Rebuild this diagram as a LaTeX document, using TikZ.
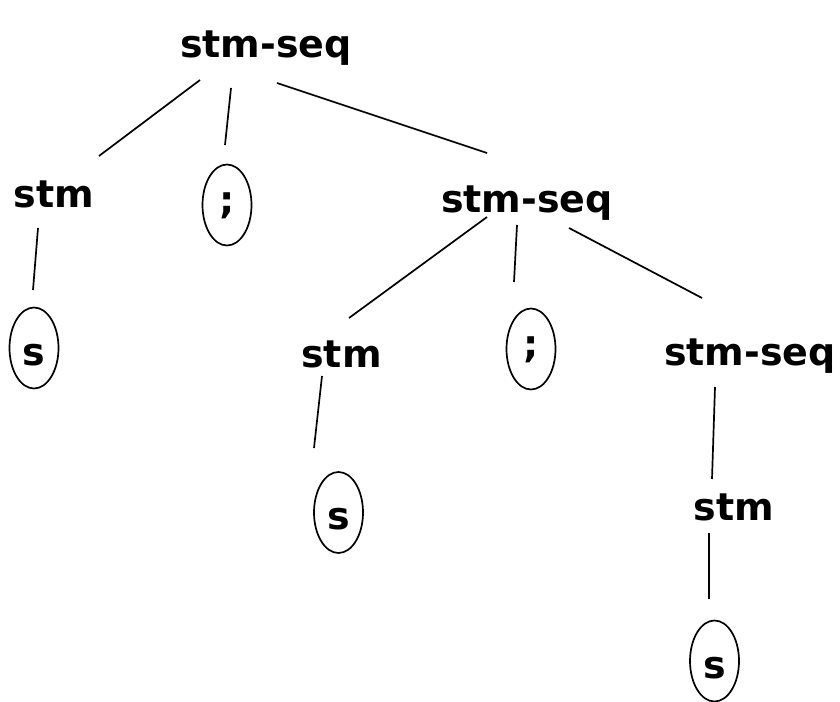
\documentclass[tikz,border=0pt]{standalone}
\usepackage{fontspec}
\setmainfont{DejaVu Sans}
\usetikzlibrary{shapes.geometric,calc}
\begin{document}
\begin{tikzpicture}[x=1pt,y=-1pt,
  treefont/.style={font=\fontsize{38}{40}\selectfont\bfseries},
  lbl/.style={treefont,anchor=base,inner sep=0pt},
  leaf/.style={treefont,draw,ellipse,line width=1.7pt,minimum width=49pt,
    minimum height=81pt,inner sep=0pt,text height=34pt,text depth=0pt},
  semi/.style={leaf,text height=19pt,text depth=3pt},
  branch/.style={line width=1.7pt}]
\useasboundingbox (0,0) rectangle (840,701);

% nonterminals (placed by their baselines)
\node[lbl] (root)  at (266,57)    {stm-seq};
\node[lbl] (stmA)  at (54,207)    {stm};
\node[lbl] (seqB)  at (527,212)   {stm-seq};
\node[lbl] (stmB)  at (341.5,367) {stm};
\node[lbl] (seqC)  at (750,365)   {stm-seq};
\node[lbl] (stmC)  at (734,520)   {stm};

% terminals
\node[semi] (semA) at (227,205)   {;};
\node[semi] (semB) at (531,349)   {;};
\node[leaf] (sA)   at (34,348)    {s};
\node[leaf] (sB)   at (338.5,512.5) {s};
\node[leaf] (sC)   at (714.5,661) {s};

% branches
\draw[branch] ($(root.base)+(-66,23)$) -- ($(stmA.base)+(45,-51)$);
\draw[branch] ($(root.base)+(-35,31)$) -- ($(semA.center)+(-2,-60)$);
\draw[branch] ($(root.base)+(11,26)$)  -- ($(seqB.base)+(-40,-59)$);
\draw[branch] ($(stmA.base)+(-16,21)$) -- ($(sA.center)+(-1,-58)$);
\draw[branch] ($(seqB.base)+(-40,5)$)  -- ($(stmB.base)+(7.5,-49)$);
\draw[branch] ($(seqB.base)+(-10,13)$) -- ($(semB.center)+(-17,-67)$);
\draw[branch] ($(seqB.base)+(42,16)$)  -- ($(seqC.base)+(-48,-67)$);
\draw[branch] ($(stmB.base)+(-19.5,9)$) -- ($(sB.center)+(-24.5,-64.5)$);
\draw[branch] ($(seqC.base)+(-35,22)$) -- ($(stmC.base)+(-22,-41)$);
\draw[branch] ($(stmC.base)+(-25,13)$) -- ($(sC.center)+(-5.5,-62)$);
\end{tikzpicture}
\end{document}
